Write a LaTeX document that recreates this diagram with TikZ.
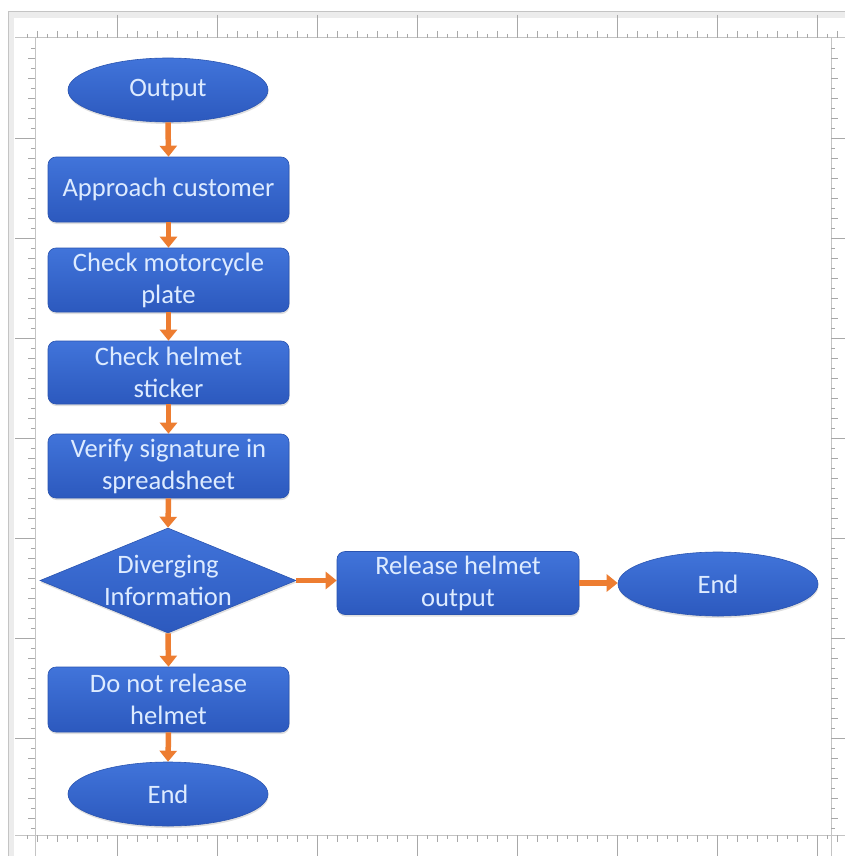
\documentclass[tikz,border=0pt]{standalone}
\usepackage{fontspec}
\setmainfont{Carlito}
\usetikzlibrary{shapes.geometric,arrows.meta,shadows}

\definecolor{rulergray}{HTML}{C4C4C4}
\definecolor{tickgray}{HTML}{A8A8A8}
\definecolor{bandgray}{HTML}{ECECEC}
\definecolor{shapetop}{HTML}{4174DA}
\definecolor{shapebot}{HTML}{2C59BE}
\definecolor{shapeedge}{HTML}{2A54B0}
\definecolor{labeltext}{HTML}{DDEBFF}
\definecolor{flow}{HTML}{ED7D31}

\tikzset{
  shapebase/.style={top color=shapetop, bottom color=shapebot, draw=shapeedge,
    line width=0.6pt, inner sep=0pt,
    drop shadow={shadow xshift=0.5pt, shadow yshift=-2pt, opacity=0.25}},
  stepbox/.style={shapebase, rectangle, rounded corners=8pt,
    minimum width=241pt, minimum height=64pt},
  terminal/.style={shapebase, ellipse, minimum width=200pt, minimum height=64pt},
  decision/.style={shapebase, diamond, minimum width=256pt, minimum height=105pt},
  caption/.style={text=labeltext, align=center, inner sep=0pt,
    font=\fontsize{26.6}{32}\selectfont},
  flowarrow/.style={draw=flow, line width=5.5pt,
    -{Triangle[length=11pt,width=17pt]}},
  rulerline/.style={draw=rulergray, line width=1pt},
  tick/.style={draw=tickgray, line width=0.8pt}
}

\begin{document}
\begin{tikzpicture}[x=1pt,y=-1pt]
  \useasboundingbox (0,0) rectangle (845,856);
  \fill[white] (0,0) rectangle (845,856);

  % ruler frame
  \fill[bandgray] (8,12) rectangle (845,18);
  \fill[bandgray] (8,12) rectangle (14,856);
  \draw[rulerline] (8,856) -- (8,12) -- (845,12);
  \draw[rulerline] (15,38) -- (845,38);
  \draw[rulerline] (35,38) -- (35,856);
  \draw[rulerline] (15,835) -- (845,835);
  \draw[rulerline] (831,38) -- (831,856);

  % horizontal ruler ticks (top and bottom)
  \foreach \i in {1,...,82} {
    \pgfmathsetmacro{\tx}{17+10*\i}
    \pgfmathtruncatemacro{\major}{mod(\i,10)==0 ? 1 : 0}
    \pgfmathtruncatemacro{\odd}{mod(\i,2)}
    \ifnum\major=1
      \draw[tick] (\tx,15) -- (\tx,38);
      \draw[tick] (\tx,835) -- (\tx,856);
    \else\ifnum\odd=1
      \draw[tick] (\tx,34) -- (\tx,38);
      \draw[tick] (\tx,835) -- (\tx,839);
    \else
      \draw[tick] (\tx,31) -- (\tx,38);
      \draw[tick] (\tx,835) -- (\tx,842);
    \fi\fi
  }
  % vertical ruler ticks (left and right)
  \foreach \j in {-9,...,69} {
    \pgfmathsetmacro{\ty}{138+10*\j}
    \pgfmathtruncatemacro{\major}{mod(\j+100,10)==0 ? 1 : 0}
    \pgfmathtruncatemacro{\odd}{mod(\j+100,2)}
    \ifnum\major=1
      \draw[tick] (15,\ty) -- (35,\ty);
      \draw[tick] (831,\ty) -- (845,\ty);
    \else\ifnum\odd=1
      \draw[tick] (31,\ty) -- (35,\ty);
      \draw[tick] (831,\ty) -- (835,\ty);
    \else
      \draw[tick] (28,\ty) -- (35,\ty);
      \draw[tick] (831,\ty) -- (838,\ty);
    \fi\fi
  }

  % flowchart shapes
  \node[terminal] (out) at (168,90) {};
  \node[caption] (outT) at (out.center) {Output};

  \node[stepbox, minimum height=65pt] (app) at (168.5,189.5) {};
  \node[caption] (appT) at (app.center) {Approach customer};

  \node[stepbox] (plate) at (168.5,280) {};
  \node[caption] (plateT) at (plate.center) {Check motorcycle\\plate};

  \node[stepbox, minimum height=63pt] (sticker) at (168.5,372.5) {};
  \node[caption] (stickerT) at (sticker.center) {Check helmet\\sticker};

  \node[stepbox] (verify) at (168.5,466) {};
  \node[caption] (verifyT) at (verify.center) {Verify signature in\\spreadsheet};

  \node[decision] (div) at (168,580.5) {};
  \node[caption] (divT) at (div.center) {Diverging\\Information};

  \node[stepbox, minimum width=242pt, minimum height=63pt] (rel) at (458,583) {};
  \node[caption] (relT) at (rel.center) {Release helmet\\output};

  \node[terminal] (endR) at (718,584) {};
  \node[caption] (endRT) at (endR.center) {End};

  \node[stepbox, minimum height=65pt] (dont) at (168.5,699.5) {};
  \node[caption] (dontT) at (dont.center) {Do not release\\helmet};

  \node[terminal] (endB) at (168,794) {};
  \node[caption] (endBT) at (endB.center) {End};

  % connectors
  \draw[flowarrow] (out.south) -- (app.north);
  \draw[flowarrow] (app.south) -- (plate.north);
  \draw[flowarrow] (plate.south) -- (sticker.north);
  \draw[flowarrow] (sticker.south) -- (verify.north);
  \draw[flowarrow] (verify.south) -- (div.north);
  \draw[flowarrow] (div.east) -- (div.east -| rel.west);
  \draw[flowarrow] (rel.east) -- (rel.east -| endR.west);
  \draw[flowarrow] (div.south) -- (dont.north);
  \draw[flowarrow] (dont.south) -- (endB.north);
\end{tikzpicture}
\end{document}
